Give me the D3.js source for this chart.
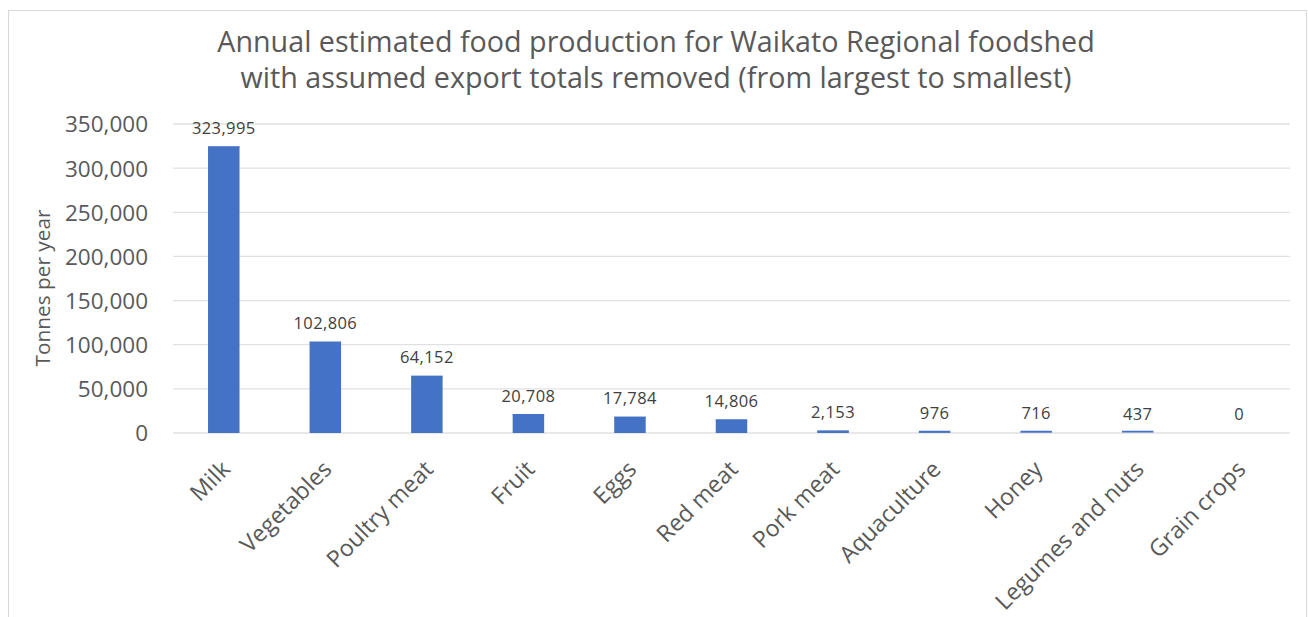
<!DOCTYPE html>
<html><head><meta charset="utf-8">
<script src="https://cdn.jsdelivr.net/npm/d3@7"></script>
<style>body{margin:0;background:#fff;} text{font-family:"Open Sans","Liberation Sans",sans-serif;}</style>
</head><body><svg id="c" width="1308" height="617"></svg>
<script>
const categories = ["Milk","Vegetables","Poultry meat","Fruit","Eggs","Red meat","Pork meat","Aquaculture","Honey","Legumes and nuts","Grain crops"];
const values = [323995,102806,64152,20708,17784,14806,2153,976,716,437,0];
const yTicks = [0,50000,100000,150000,200000,250000,300000,350000];
const titleLines = ["Annual estimated food production for Waikato Regional foodshed","with assumed export totals removed (from largest to smallest)"];
const yTitle = "Tonnes per year";

const svg = d3.select("#c");
svg.append("rect").attr("x",8.5).attr("y",10.5).attr("width",1298).attr("height",620).attr("fill","#fff").attr("stroke","#d9d9d9");
const m = {l:173,r:1290,t:124,b:433};
const x = d3.scaleBand().domain(categories).range([m.l,m.r]).paddingInner(0.69).paddingOuter(0.345);
const y = d3.scaleLinear().domain([0,350000]).range([m.b,m.t]);

const fmt = d3.format(",");
svg.append("g").selectAll("line").data(yTicks).join("line")
 .attr("x1",m.l).attr("x2",m.r).attr("y1",d=>y(d)).attr("y2",d=>y(d))
 .attr("stroke","#e1e1e1").attr("stroke-width",1.3);
const ya = svg.append("g").attr("transform",`translate(${m.l},0)`).call(d3.axisLeft(y).tickValues(yTicks).tickFormat(fmt).tickSize(0).tickPadding(25));
ya.select(".domain").remove();
ya.selectAll("text").attr("font-size",22.5).attr("fill","#595959").attr("font-family","'Open Sans',sans-serif").attr("dy","0.35em");

svg.append("g").selectAll("rect").data(values).join("rect")
 .attr("x",(d,i)=>x(categories[i])).attr("width",x.bandwidth())
 .attr("y",d=>y(d)).attr("height",d=>Math.max(0,y(0)-y(d)) || 0)
 .attr("fill","#4472c4");
// thin visible lines for tiny bars
svg.append("g").selectAll("line").data(values.filter(v=>v>0)).join("line")
 .attr("x1",(d)=>x(categories[values.indexOf(d)])).attr("x2",(d)=>x(categories[values.indexOf(d)])+x.bandwidth())
 .attr("y1",d=>Math.min(y(d),y(0)-1.5)).attr("y2",d=>Math.min(y(d),y(0)-1.5))
 .attr("stroke","#4472c4").attr("stroke-width",1.5);

svg.append("g").selectAll("text").data(values).join("text")
 .attr("x",(d,i)=>x(categories[i])+x.bandwidth()/2).attr("y",d=>y(d)-13)
 .attr("text-anchor","middle").attr("font-size",16.5).attr("letter-spacing",0.4).attr("fill","#404040")
 .attr("font-family","'Liberation Sans',Arial,sans-serif").text(d=>fmt(d));

svg.append("g").selectAll("text").data(categories).join("text")
 .attr("transform",d=>`translate(${x(d)+x.bandwidth()/2+2},465) rotate(-45)`)
 .attr("text-anchor","end").attr("dy","0.35em").attr("font-size",23.2).attr("fill","#595959").text(d=>d);

svg.append("text").attr("transform",`translate(50,288) rotate(-90)`).attr("text-anchor","middle")
 .attr("font-size",20.8).attr("fill","#595959").text(yTitle);

svg.append("g").selectAll("text").data(titleLines).join("text")
 .attr("x",656).attr("y",(d,i)=>52+i*36).attr("text-anchor","middle")
 .attr("font-size",28.7).attr("fill","#595959").text(d=>d);
</script></body></html>
